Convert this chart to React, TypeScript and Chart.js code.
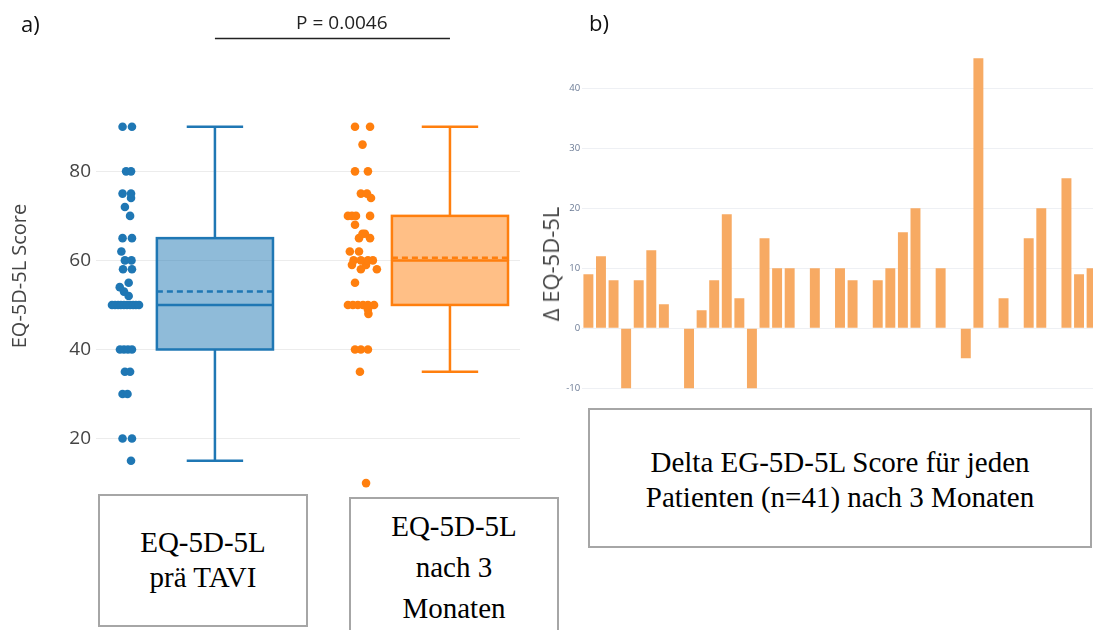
import React, { useEffect, useRef } from "react";
import { Chart, registerables } from "chart.js";

Chart.register(...registerables);

// ---------- Panel a) : box plots ----------
const groupPositions = [1, 2];
const stripCenters = [0.626, 1.634];
const boxQ1 = [40, 50];
const boxMedian = [50, 60];
const boxQ3 = [65, 70];
const boxMean = [53, 60.6];
const whiskerLow = [15, 35];
const whiskerHigh = [90, 90];
const scoreTicks = [20, 40, 60, 80];
const pValueText = "P = 0.0046";

const preValues = [15, 20, 20, 30, 30, 35, 35, 40, 40, 40, 40, 50, 50, 50, 50, 50, 50, 50, 50, 50, 50, 55, 54, 53, 52, 58, 58, 60, 60, 62, 65, 65, 70, 72, 74, 75, 75, 80, 80, 90, 90];
const preJitter = [0.017, -0.019, 0.021, -0.019, 0.002, -0.009, 0.013, -0.03, -0.013, 0.004, 0.021, -0.064, -0.051, -0.038, -0.026, -0.013, 0, 0.013, 0.026, 0.038, 0.051, 0.007, -0.031, -0.013, 0.007, -0.017, 0.021, -0.009, 0.019, -0.024, -0.019, 0.021, 0.013, -0.009, 0.017, -0.019, 0.017, -0.004, 0.017, -0.019, 0.021];

const postValues = [10, 35, 40, 40, 40, 48, 49, 50, 50, 50, 50, 50, 50, 55, 58, 58, 59, 59, 60, 60, 60, 60, 62, 62, 65, 65, 66, 66, 68, 70, 70, 70, 70, 74, 75, 75, 80, 80, 86, 90, 90];
const postJitter = [0.009, -0.017, -0.038, -0.013, 0.017, 0.019, 0.017, -0.068, -0.047, -0.026, -0.004, 0.017, 0.043, -0.038, -0.013, 0.055, -0.051, 0.009, -0.044, -0.013, 0.017, 0.038, -0.06, -0.021, -0.021, 0.026, -0.006, 0.004, -0.038, -0.068, -0.051, -0.034, 0.026, 0.03, -0.013, 0.013, -0.038, 0.017, -0.006, -0.038, 0.026];

// ---------- Panel b) : delta per patient ----------
const patientIds = ["1","2","3","4","5","6","7","8","9","10","11","12","13","14","15","16","17","18","19","20","21","22","23","24","25","26","27","28","29","30","31","32","33","34","35","36","37","38","39","40","41"];
const deltaValues = [9, 12, 8, -10, 8, 13, 4, 0, -10, 3, 8, 19, 5, -10, 15, 10, 10, 0, 10, 0, 10, 8, 0, 8, 10, 16, 20, 0, 10, 0, -5, 45, 0, 5, 0, 15, 20, 0, 25, 9, 10];
const deltaTicks = [-10, 0, 10, 20, 30, 40];

const BLUE = "#1f77b4";
const ORANGE = "#ff7f0e";
const lineColors = [BLUE, ORANGE];
const fillColors = ["rgba(31,119,180,0.5)", "rgba(255,127,14,0.5)"];
const BOX_HALF = 0.247;
const CAP_HALF = 0.12;

const boxPlugin = {
  id: "boxPlot",
  beforeDatasetsDraw(chart: any) {
    const { ctx } = chart;
    const x = chart.scales.x;
    const y = chart.scales.y;
    groupPositions.forEach((pos, i) => {
      const cx = x.getPixelForValue(pos);
      const l = x.getPixelForValue(pos - BOX_HALF);
      const r = x.getPixelForValue(pos + BOX_HALF);
      const cl = x.getPixelForValue(pos - CAP_HALF);
      const cr = x.getPixelForValue(pos + CAP_HALF);
      const q1 = y.getPixelForValue(boxQ1[i]);
      const q3 = y.getPixelForValue(boxQ3[i]);
      const med = y.getPixelForValue(boxMedian[i]);
      const mean = y.getPixelForValue(boxMean[i]);
      const lo = y.getPixelForValue(whiskerLow[i]);
      const hi = y.getPixelForValue(whiskerHigh[i]);
      ctx.save();
      ctx.fillStyle = fillColors[i];
      ctx.fillRect(l, q3, r - l, q1 - q3);
      ctx.strokeStyle = lineColors[i];
      ctx.lineWidth = 2.5;
      ctx.strokeRect(l, q3, r - l, q1 - q3);
      ctx.beginPath();
      ctx.moveTo(l, med); ctx.lineTo(r, med);
      ctx.moveTo(cx, q3); ctx.lineTo(cx, hi);
      ctx.moveTo(cl, hi); ctx.lineTo(cr, hi);
      ctx.moveTo(cx, q1); ctx.lineTo(cx, lo);
      ctx.moveTo(cl, lo); ctx.lineTo(cr, lo);
      ctx.stroke();
      ctx.setLineDash([6, 4]);
      ctx.beginPath();
      ctx.moveTo(l, mean); ctx.lineTo(r, mean);
      ctx.stroke();
      ctx.restore();
    });
  },
  afterDraw(chart: any) {
    const { ctx } = chart;
    const x = chart.scales.x;
    const x1 = x.getPixelForValue(groupPositions[0]);
    const x2 = x.getPixelForValue(groupPositions[1]);
    ctx.save();
    ctx.strokeStyle = "#222";
    ctx.lineWidth = 1.5;
    ctx.beginPath();
    ctx.moveTo(x1, 38.5);
    ctx.lineTo(x2, 38.5);
    ctx.stroke();
    ctx.fillStyle = "#222";
    ctx.font = "19px 'Open Sans'";
    ctx.textAlign = "center";
    ctx.textBaseline = "alphabetic";
    ctx.fillText(pValueText, x.getPixelForValue(1.54), 28.5);
    ctx.restore();
  },
};

function BoxChart() {
  const ref = useRef<HTMLCanvasElement | null>(null);
  useEffect(() => {
    if (!ref.current) return;
    const chart = new Chart(ref.current, {
      type: "scatter",
      data: {
        datasets: [
          {
            data: preValues.map((v, i) => ({ x: stripCenters[0] + preJitter[i], y: v })),
            backgroundColor: BLUE,
            borderWidth: 0,
            pointRadius: 4.3,
          },
          {
            data: postValues.map((v, i) => ({ x: stripCenters[1] + postJitter[i], y: v })),
            backgroundColor: ORANGE,
            borderWidth: 0,
            pointRadius: 4.3,
          },
        ],
      },
      options: {
        animation: false,
        responsive: true,
        maintainAspectRatio: false,
        layout: { padding: { left: 0, right: 20, top: 60, bottom: 18 } },
        plugins: { legend: { display: false }, tooltip: { enabled: false } },
        scales: {
          x: { type: "linear", min: 0.494, max: 2.298, display: false },
          y: {
            min: 8,
            max: 105,
            afterBuildTicks: (s: any) => { s.ticks = scoreTicks.map((v) => ({ value: v })); },
            afterFit: (s: any) => { s.width = 96; },
            grid: { color: "#ececec", drawTicks: false },
            border: { display: false },
            ticks: { font: { size: 19, family: "'Open Sans'" }, color: "#444", padding: 5 },
            title: {
              display: true,
              text: "EQ-5D-5L Score",
              font: { size: 20, family: "'Open Sans'" },
              color: "#444",
              padding: { top: 8, bottom: 0 },
            },
          },
        },
      },
      plugins: [boxPlugin],
    } as any);
    return () => chart.destroy();
  }, []);
  return <canvas ref={ref} />;
}

function DeltaChart() {
  const ref = useRef<HTMLCanvasElement | null>(null);
  useEffect(() => {
    if (!ref.current) return;
    const chart = new Chart(ref.current, {
      type: "bar",
      data: {
        labels: patientIds,
        datasets: [
          {
            data: deltaValues,
            backgroundColor: "#f7aa63",
            barPercentage: 0.79,
            categoryPercentage: 1,
          },
        ],
      },
      options: {
        animation: false,
        responsive: true,
        maintainAspectRatio: false,
        layout: { padding: { left: 0, right: 2.1, top: 46.3, bottom: 8.7 } },
        plugins: { legend: { display: false }, tooltip: { enabled: false } },
        scales: {
          x: { display: false },
          y: {
            min: -12,
            max: 47,
            afterBuildTicks: (s: any) => { s.ticks = deltaTicks.map((v) => ({ value: v })); },
            afterFit: (s: any) => { s.width = 42.1; },
            grid: { color: "#eef0f4", drawTicks: false },
            border: { display: false },
            ticks: { font: { size: 9.5, family: "'Open Sans'" }, color: "#6b7b95", padding: 2 },
          },
        },
      },
    } as any);
    return () => chart.destroy();
  }, []);
  return <canvas ref={ref} />;
}

const boxStyle: React.CSSProperties = {
  position: "absolute",
  boxSizing: "border-box",
  border: "2px solid #a6a6a6",
  background: "#fff",
  fontFamily: "'Liberation Serif', 'Times New Roman', serif",
  fontSize: 29,
  color: "#000",
  textAlign: "center",
};

export default function App() {
  return (
    <div
      style={{
        position: "fixed",
        left: 0,
        top: 0,
        width: 1093,
        height: 630,
        overflow: "hidden",
        background: "#fff",
      }}
    >
      <div style={{ position: "absolute", left: 0, top: 0, width: 540, height: 510 }}>
        <BoxChart />
      </div>
      <div style={{ position: "absolute", left: 540, top: 0, width: 560, height: 409 }}>
        <DeltaChart />
      </div>
      <div style={{ position: "absolute", left: 21, top: 11.5, fontFamily: "'Open Sans', sans-serif", fontSize: 22, lineHeight: "22px", color: "#111" }}>a)</div>
      <div style={{ position: "absolute", left: 589, top: 10.5, fontFamily: "'Open Sans', sans-serif", fontSize: 22, lineHeight: "22px", color: "#111" }}>b)</div>
      <div
        style={{
          position: "absolute",
          left: 550,
          top: 264,
          transform: "translate(-50%, -50%) rotate(-90deg)",
          whiteSpace: "nowrap",
          fontFamily: "'Open Sans', sans-serif",
          fontSize: 22,
          color: "#444",
        }}
      >
        Δ EQ-5D-5L
      </div>
      <div style={{ ...boxStyle, left: 98, top: 494, width: 210, height: 133, paddingTop: 29, lineHeight: "35px" }}>
        EQ-5D-5L<br />prä TAVI
      </div>
      <div style={{ ...boxStyle, left: 349, top: 497, width: 210, height: 145, paddingTop: 7, lineHeight: "41px" }}>
        EQ-5D-5L<br />nach 3<br />Monaten
      </div>
      <div style={{ ...boxStyle, left: 588, top: 408, width: 504, height: 140, paddingTop: 35, lineHeight: "35px" }}>
        Delta EG-5D-5L Score für jeden<br />Patienten (n=41) nach 3 Monaten
      </div>
    </div>
  );
}
